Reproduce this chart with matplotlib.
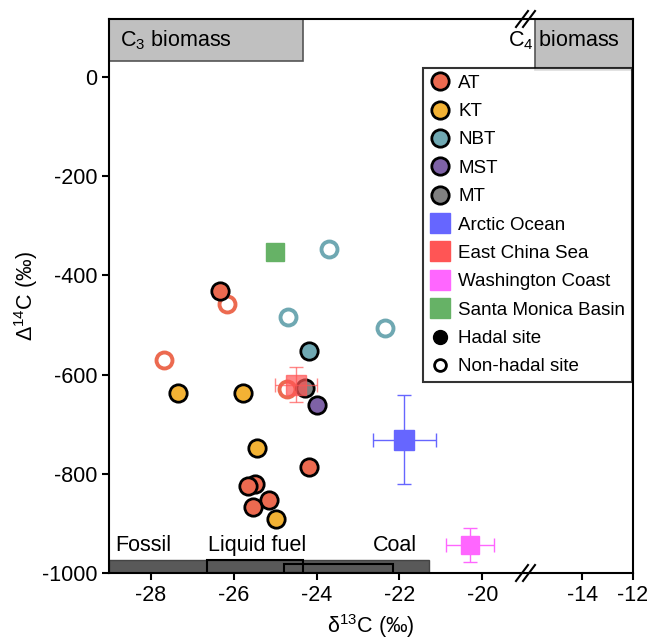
import matplotlib
matplotlib.use("Agg")
import matplotlib.pyplot as plt
from matplotlib.lines import Line2D
from matplotlib.patches import Rectangle

plt.rcParams['font.family'] = ['Liberation Sans', 'DejaVu Sans']
plt.rcParams['mathtext.fontset'] = 'custom'
plt.rcParams['mathtext.rm'] = 'Liberation Sans'
plt.rcParams['axes.unicode_minus'] = False

# === データ ===
# 海溝ごとの d13C / D14C (hadal = 塗りつぶし, non-hadal = 白抜き)
at_h_x = [-26.33, -24.17, -25.48, -25.64, -25.14, -25.54]
at_h_y = [-431, -787, -820, -825, -852, -866]
at_n_x = [-26.15, -27.67, -24.72]
at_n_y = [-457, -571, -630]

kt_h_x = [-27.33, -25.76, -25.44, -24.98]
kt_h_y = [-637, -638, -748, -891]

nbt_h_x = [-24.17]
nbt_h_y = [-552]
nbt_n_x = [-24.68, -23.70, -22.35]
nbt_n_y = [-484, -346, -507]

mst_h_x = [-24.0]
mst_h_y = [-661]

mt_h_x = [-24.28]
mt_h_y = [-627]

# 他海域 (平均 ± 誤差)
arctic = dict(x=-21.89, y=-731, xerr=0.76, yerr=90)
ecs = dict(x=-24.5, y=-620, xerr=0.5, yerr=36)
wash = dict(x=-20.3, y=-943, xerr=0.58, yerr=34)
smb = dict(x=-25.0, y=-352)

# 端成分の範囲
c3_range = (-29.0, -24.32)
c4_start = -15.87
fossil_range = (-29.0, -21.3)
liquid_range = (-26.65, -24.32)
coal_range = (-24.78, -22.15)

col_at = '#EC6A50'
col_kt = '#F3B234'
col_nbt = '#6FA8B2'
col_mst = '#7E62A6'
col_mt = '#808080'
col_arc = '#6666FF'
col_ecs = '#FF5555'
col_wash = '#FF66FF'
col_smb = '#66B266'

W, H = 649, 641
fig = plt.figure(figsize=(W / 100, H / 100), dpi=100)
L, R, T, B, BRK = 109, 633, 19, 573, 524
ax1 = fig.add_axes([L / W, (H - B) / H, (BRK - L) / W, (B - T) / H])
ax2 = fig.add_axes([BRK / W, (H - B) / H, (R - BRK) / W, (B - T) / H], sharey=ax1)

ylim = (-1000, 117)
ax1.set_xlim(-29, -19)
ax2.set_xlim(-16.3, -12)
ax1.set_ylim(*ylim)

for ax in (ax1, ax2):
    for s in ax.spines.values():
        s.set_linewidth(1.5)
    ax.tick_params(width=1.5, length=5, labelsize=15.5)
ax1.spines['right'].set_visible(False)
ax2.spines['left'].set_visible(False)
ax2.tick_params(axis='y', left=False, labelleft=False)
ax1.set_xticks([-28, -26, -24, -22, -20])
ax2.set_xticks([-14, -12])
ax1.set_yticks([0, -200, -400, -600, -800, -1000])

# === 端成分ボックス ===
ax1.add_patch(Rectangle((c3_range[0], 33), c3_range[1] - c3_range[0], ylim[1] - 33,
                        facecolor='#C0C0C0', edgecolor='#555555', lw=1.2, zorder=1))
ax1.text(-28.73, 75, 'C$_3$ biomass', fontsize=15.5, va='center', ha='left', zorder=2)
ax2.add_patch(Rectangle((c4_start, 15), -12 - c4_start, ylim[1] - 15,
                        facecolor='#C0C0C0', edgecolor='#555555', lw=1.2, zorder=1))
ax2.text(-12.5, 75, 'C$_4$ biomass', fontsize=15.5, va='center', ha='right',
         clip_on=False, zorder=2)

ax1.add_patch(Rectangle((fossil_range[0], -1000), fossil_range[1] - fossil_range[0], 27,
                        facecolor='#595959', edgecolor='#444444', lw=1, zorder=1))
ax1.add_patch(Rectangle((liquid_range[0], -1000), liquid_range[1] - liquid_range[0], 26,
                        facecolor='none', edgecolor='black', lw=1.5, zorder=1.5))
ax1.add_patch(Rectangle((coal_range[0], -1000), coal_range[1] - coal_range[0], 19,
                        facecolor='none', edgecolor='black', lw=1.5, zorder=1.5))
ax1.text(-28.86, -944, 'Fossil', fontsize=15.5, va='center', ha='left')
ax1.text(-26.61, -944, 'Liquid fuel', fontsize=15.5, va='center', ha='left')
ax1.text(-22.64, -944, 'Coal', fontsize=15.5, va='center', ha='left')

# === 海溝データ ===
def filled(x, y, c):
    ax1.plot(x, y, 'o', ms=12.5, mfc=c, mec='black', mew=2, ls='none', zorder=3)

def ring(x, y, c):
    ax1.plot(x, y, 'o', ms=11.5, mfc='white', mec=c, mew=2.8, ls='none', zorder=3)

ring(at_n_x, at_n_y, col_at)
ring(nbt_n_x, nbt_n_y, col_nbt)
filled(at_h_x, at_h_y, col_at)
filled(kt_h_x, kt_h_y, col_kt)
filled(nbt_h_x, nbt_h_y, col_nbt)
filled(mt_h_x, mt_h_y, col_mt)
filled(mst_h_x, mst_h_y, col_mst)

# === 他海域 ===
ax1.errorbar(arctic['x'], arctic['y'], xerr=arctic['xerr'], yerr=arctic['yerr'],
             fmt='s', ms=14, color=col_arc, mec=col_arc, elinewidth=1, capsize=5, zorder=4)
ax1.errorbar(ecs['x'], ecs['y'], xerr=ecs['xerr'], yerr=ecs['yerr'],
             fmt='s', ms=14, color=col_ecs, mec=col_ecs, elinewidth=1, capsize=5,
             alpha=0.7, zorder=4)
ax1.errorbar(wash['x'], wash['y'], xerr=wash['xerr'], yerr=wash['yerr'],
             fmt='s', ms=13.5, color=col_wash, mec=col_wash, elinewidth=1, capsize=5, zorder=4)
ax1.plot(smb['x'], smb['y'], 's', ms=12.5, color=col_smb, zorder=4)

# === 軸ラベル ===
fig.text((L + R) / 2 / W, 1 - 626 / H, r'δ$^{13}$C (‰)', fontsize=15.5, ha='center', va='center')
ax1.set_ylabel(r'Δ$^{14}$C (‰)', fontsize=15.5)
ax1.yaxis.set_label_coords((40 - L) / (BRK - L), 0.5)

# === 軸の切れ目 ===
bx = 526
for yy in (T, B):
    for dx in (-4, 3):
        fig.add_artist(Line2D([(bx + dx - 6) / W, (bx + dx + 6) / W],
                              [1 - (yy + 8) / H, 1 - (yy - 8) / H],
                              color='black', lw=1.5))
    fig.add_artist(Line2D([(bx - 3) / W, (bx + 2) / W], [1 - yy / H, 1 - yy / H],
                          color='white', lw=3, zorder=0))

# === 凡例 ===
handles = [
    Line2D([], [], marker='o', ms=12.5, mfc=col_at, mec='black', mew=2, ls='none', label='AT'),
    Line2D([], [], marker='o', ms=12.5, mfc=col_kt, mec='black', mew=2, ls='none', label='KT'),
    Line2D([], [], marker='o', ms=12.5, mfc=col_nbt, mec='black', mew=2, ls='none', label='NBT'),
    Line2D([], [], marker='o', ms=12.5, mfc=col_mst, mec='black', mew=2, ls='none', label='MST'),
    Line2D([], [], marker='o', ms=12.5, mfc=col_mt, mec='black', mew=2, ls='none', label='MT'),
    Line2D([], [], marker='s', ms=14, color=col_arc, ls='none', label='Arctic Ocean'),
    Line2D([], [], marker='s', ms=14, color=col_ecs, ls='none', label='East China Sea'),
    Line2D([], [], marker='s', ms=14, color=col_wash, ls='none', label='Washington Coast'),
    Line2D([], [], marker='s', ms=14, color=col_smb, ls='none', label='Santa Monica Basin'),
    Line2D([], [], marker='o', ms=10, color='black', ls='none', label='Hadal site'),
    Line2D([], [], marker='o', ms=8.5, mfc='white', mec='black', mew=2, ls='none', label='Non-hadal site'),
]
leg = fig.legend(handles=handles, loc='upper right', bbox_to_anchor=(632 / W, 1 - 68 / H),
                 fontsize=13.5, frameon=True, fancybox=False, edgecolor='black',
                 borderaxespad=0, handlelength=1.1, handletextpad=0.45, labelspacing=0.6,
                 borderpad=0.35)
leg.get_frame().set_linewidth(1.5)

fig.savefig('out.png', dpi=100)
